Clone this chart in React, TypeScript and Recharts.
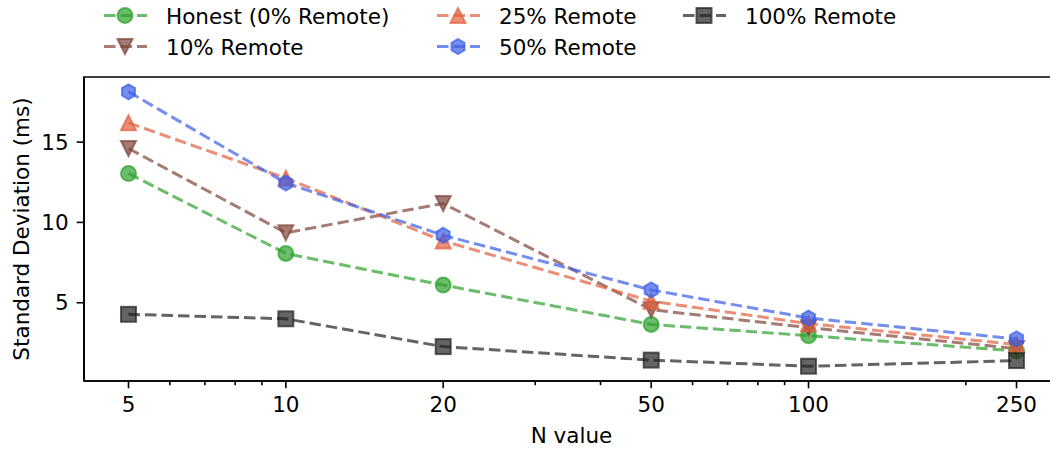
import React from "react";
import { LineChart, Line, XAxis, YAxis, ReferenceArea } from "recharts";

const nValues = [5, 10, 20, 50, 100, 250];
const honest = [13.05, 8.07, 6.1, 3.65, 2.95, 2.0];
const remote10 = [14.6, 9.35, 11.18, 4.57, 3.45, 2.15];
const remote25 = [16.2, 12.75, 8.85, 5.1, 3.7, 2.4];
const remote50 = [18.13, 12.45, 9.2, 5.8, 4.05, 2.75];
const remote100 = [4.28, 4.0, 2.27, 1.43, 1.05, 1.4];

const majorTicks = [5, 10, 20, 50, 100, 250];
const minorTicks = [6, 7, 8, 9, 30, 40, 60, 70, 80, 90, 200];
const yTicks = [5, 10, 15];

const X_DOMAIN = [4.11, 291];
const Y_DOMAIN = [0.13, 19.05];

const FONT = "'DejaVu Sans', sans-serif";
const FS = 21.5;
const MS = 7.5; // marker half-size

type Shape = "circle" | "tdown" | "tup" | "hex" | "square";

const SERIES: { key: string; name: string; color: string; shape: Shape; values: number[] }[] = [
  { key: "honest", name: "Honest (0% Remote)", color: "#2ca02c", shape: "circle", values: honest },
  { key: "r10", name: "10% Remote", color: "#7f4538", shape: "tdown", values: remote10 },
  { key: "r25", name: "25% Remote", color: "#e0603f", shape: "tup", values: remote25 },
  { key: "r50", name: "50% Remote", color: "#3b5ee6", shape: "hex", values: remote50 },
  { key: "r100", name: "100% Remote", color: "#222222", shape: "square", values: remote100 },
];

const data = nValues.map((n, i) => {
  const row: Record<string, number> = { n };
  SERIES.forEach((s) => (row[s.key] = s.values[i]));
  return row;
});

function Marker({ cx, cy, color, shape }: { cx: number; cy: number; color: string; shape: Shape }) {
  const common = { fill: color, fillOpacity: 0.7, stroke: color, strokeOpacity: 0.7, strokeWidth: 2 };
  if (shape === "circle") return <circle cx={cx} cy={cy} r={MS} {...common} />;
  if (shape === "square") return <rect x={cx - MS} y={cy - MS} width={MS * 2} height={MS * 2} {...common} />;
  let pts: number[][] = [];
  if (shape === "tup") pts = [[0, -MS], [-MS, MS], [MS, MS]];
  if (shape === "tdown") pts = [[0, MS], [-MS, -MS], [MS, -MS]];
  if (shape === "hex")
    pts = Array.from({ length: 6 }, (_, i) => {
      const a = ((-90 + 60 * i) * Math.PI) / 180;
      return [MS * Math.cos(a), MS * Math.sin(a)];
    });
  return <polygon points={pts.map((p) => `${cx + p[0]},${cy + p[1]}`).join(" ")} {...common} />;
}

const XTick = (props: any) => {
  const { x, y, payload } = props;
  const major = majorTicks.includes(payload.value);
  return (
    <g>
      <line x1={x} x2={x} y1={y} y2={y + (major ? 7.3 : 4.2)} stroke="#000" strokeWidth={1.6} />
      {major && (
        <text x={x} y={y + 31} textAnchor="middle" fontFamily={FONT} fontSize={FS} fill="#000">
          {payload.value}
        </text>
      )}
    </g>
  );
};

const legendPos = [
  { mx: 125, ty: 23.5 },
  { mx: 125, ty: 54.5 },
  { mx: 458, ty: 23.5 },
  { mx: 458, ty: 54.5 },
  { mx: 704, ty: 23.5 },
];

function LegendBox() {
  return (
    <svg width={1050} height={70} style={{ position: "absolute", left: 0, top: 0 }}>
      {SERIES.map((s, i) => {
        const p = legendPos[i];
        const cy = p.ty - 8;
        return (
          <g key={s.key}>
            <line x1={p.mx - 21} x2={p.mx + 22} y1={cy} y2={cy} stroke={s.color} strokeOpacity={0.7} strokeWidth={3} strokeDasharray="11.5 5" />
            <Marker cx={p.mx} cy={cy} color={s.color} shape={s.shape} />
            <text x={p.mx + 41} y={p.ty} fontFamily={FONT} fontSize={FS} fill="#000">
              {s.name}
            </text>
          </g>
        );
      })}
    </svg>
  );
}

export default function App() {
  return (
    <div style={{ position: "fixed", left: 0, top: 0, width: 1050, height: 451, overflow: "hidden", background: "#fff" }}>
      <LineChart width={1071} height={451} data={data} margin={{ top: 77, right: 20, bottom: 0, left: 0 }}>
        <XAxis
          dataKey="n"
          type="number"
          scale="log"
          domain={X_DOMAIN}
          allowDataOverflow
          ticks={[...majorTicks, ...minorTicks]}
          interval={0}
          height={70}
          tickSize={0}
          tickMargin={0}
          tickLine={false}
          tick={<XTick />}
          axisLine={{ stroke: "#000", strokeWidth: 1.7 }}
          label={{ value: "N value", position: "insideBottom", offset: 8, dx: 4, fontFamily: FONT, fontSize: FS, fill: "#000" }}
        />
        <YAxis
          type="number"
          domain={Y_DOMAIN}
          allowDataOverflow
          ticks={yTicks}
          width={84}
          tickSize={7.3}
          tickMargin={8}
          tickLine={{ stroke: "#000", strokeWidth: 1.6 }}
          axisLine={{ stroke: "#000", strokeWidth: 1.7 }}
          tick={{ fontFamily: FONT, fontSize: FS, fill: "#000" }}
          label={{
            value: "Standard Deviation (ms)",
            angle: -90,
            position: "insideLeft",
            offset: 21,
            style: { textAnchor: "middle" },
            fontFamily: FONT,
            fontSize: FS,
            fill: "#000",
          }}
        />
        <ReferenceArea
          x1={X_DOMAIN[0]}
          x2={X_DOMAIN[1]}
          y1={Y_DOMAIN[0]}
          y2={Y_DOMAIN[1]}
          ifOverflow="visible"
          fill="none"
          fillOpacity={0}
          stroke="#000"
          strokeWidth={1.7}
        />
        {SERIES.map((s) => (
          <Line
            key={s.key}
            dataKey={s.key}
            type="linear"
            stroke={s.color}
            strokeOpacity={0.7}
            strokeWidth={3}
            strokeDasharray="11.5 5"
            isAnimationActive={false}
            dot={(p: any) => <Marker key={`${s.key}-${p.index}`} cx={p.cx} cy={p.cy} color={s.color} shape={s.shape} />}
            activeDot={false}
          />
        ))}
      </LineChart>
      <LegendBox />
    </div>
  );
}
